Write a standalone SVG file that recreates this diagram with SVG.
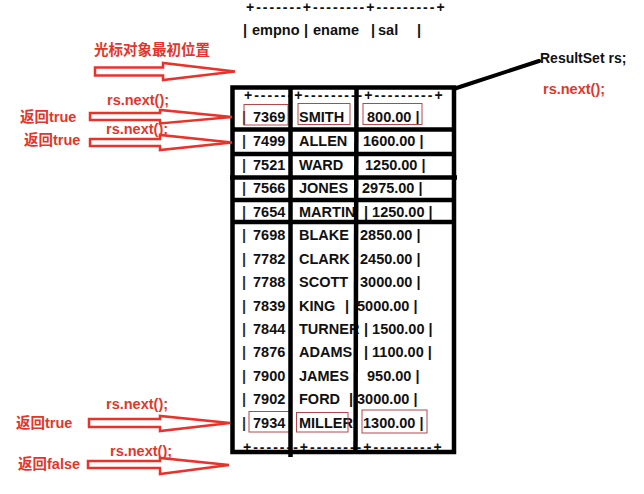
<svg xmlns="http://www.w3.org/2000/svg" width="644" height="494" viewBox="0 0 644 494">
<defs>
<style>
.red{fill:#e2362b;font-family:"Liberation Sans","Noto Sans CJK SC",sans-serif;font-weight:bold;font-size:14.5px}
.blk{fill:#111;font-family:"Liberation Sans","Noto Sans CJK SC",sans-serif;font-weight:bold;font-size:14.5px}
.dash{fill:#111;font-family:"Liberation Sans",sans-serif;font-weight:bold;font-size:14px;letter-spacing:2px}
.bar{fill:#1f2f4f}
.arrow{fill:#fff;stroke:#e8332a;stroke-width:2.5;stroke-linejoin:miter}
.hl{fill:none;stroke:#b5474a;stroke-width:1}
.tb{stroke:#000;stroke-width:4.5;fill:none}
</style>
</defs>
<rect width="644" height="494" fill="#fff"/>

<g id="header">
<text class="dash" x="246" y="12">+-------+--------+---------+</text>
<text class="blk" x="243" y="35">|</text>
<text class="blk" x="252" y="35">empno</text>
<text class="blk" x="304" y="35">|</text>
<text class="blk" x="313" y="35">ename</text>
<text class="blk" x="371" y="35">|</text>
<text class="blk" x="378" y="35">sal</text>
<text class="blk" x="417" y="35">|</text>
</g>

<g id="cursor-label">
<text class="red" x="94" y="55">光标对象最初位置</text>
</g>

<g id="resultset-label">
<text class="blk" x="540" y="63" style="font-size:14px">ResultSet rs;</text>
<text class="red" x="543" y="94">rs.next();</text>
</g>

<g id="labels-left">
<text class="red" x="107" y="105">rs.next();</text>
<text class="red" x="20" y="122">返回true</text>
<text class="red" x="106" y="134">rs.next();</text>
<text class="red" x="24" y="145">返回true</text>
<text class="red" x="106" y="409">rs.next();</text>
<text class="red" x="16" y="428">返回true</text>
<text class="red" x="110" y="456">rs.next();</text>
<text class="red" x="18" y="469">返回false</text>
</g>

<g id="table">
<text class="dash" x="244" y="100">+------+---------+---------+</text>
<text class="dash" x="243" y="452">+-------+--------+---------+</text>
<g id="rows">
<text class="blk bar" x="242" y="122">|</text><text class="blk" x="253" y="122">7369</text><text class="blk" x="299" y="122">SMITH</text><text class="blk" x="367" y="122">800.00 |</text>
<text class="blk bar" x="242" y="146">|</text><text class="blk" x="253" y="146">7499</text><text class="blk" x="299" y="146">ALLEN</text><text class="blk" x="363" y="146">1600.00 |</text>
<text class="blk bar" x="242" y="169.5">|</text><text class="blk" x="253" y="169.5">7521</text><text class="blk" x="299" y="169.5">WARD</text><text class="blk" x="365" y="169.5">1250.00 |</text>
<text class="blk bar" x="242" y="193">|</text><text class="blk" x="253" y="193">7566</text><text class="blk" x="299" y="193">JONES</text><text class="blk" x="362" y="193">2975.00 |</text>
<text class="blk bar" x="242" y="216.5">|</text><text class="blk" x="253" y="216.5">7654</text><text class="blk" x="299" y="216.5">MARTIN</text><text class="blk" x="364" y="216.5">| 1250.00 |</text>
<text class="blk bar" x="242" y="240">|</text><text class="blk" x="253" y="240">7698</text><text class="blk" x="299" y="240">BLAKE</text><text class="blk" x="360" y="240">2850.00 |</text>
<text class="blk bar" x="242" y="263.5">|</text><text class="blk" x="253" y="263.5">7782</text><text class="blk" x="299" y="263.5">CLARK</text><text class="blk" x="360" y="263.5">2450.00 |</text>
<text class="blk bar" x="242" y="287">|</text><text class="blk" x="253" y="287">7788</text><text class="blk" x="299" y="287">SCOTT</text><text class="blk" x="360" y="287">3000.00 |</text>
<text class="blk bar" x="242" y="310.5">|</text><text class="blk" x="253" y="310.5">7839</text><text class="blk" x="299" y="310.5">KING</text><text class="blk" x="345" y="310.5">|</text><text class="blk" x="357" y="310.5">5000.00 |</text>
<text class="blk bar" x="242" y="334">|</text><text class="blk" x="253" y="334">7844</text><text class="blk" x="299" y="334">TURNER</text><text class="blk" x="364" y="334">| 1500.00 |</text>
<text class="blk bar" x="242" y="357">|</text><text class="blk" x="253" y="357">7876</text><text class="blk" x="299" y="357">ADAMS</text><text class="blk" x="364" y="357">| 1100.00 |</text>
<text class="blk bar" x="242" y="380.5">|</text><text class="blk" x="253" y="380.5">7900</text><text class="blk" x="299" y="380.5">JAMES</text><text class="blk" x="367" y="380.5">950.00 |</text>
<text class="blk bar" x="242" y="404">|</text><text class="blk" x="253" y="404">7902</text><text class="blk" x="299" y="404">FORD</text><text class="blk" x="349" y="404">|</text><text class="blk" x="357" y="404">3000.00 |</text>
<text class="blk bar" x="242" y="427.5">|</text><text class="blk" x="253" y="427.5">7934</text><text class="blk" x="299" y="427.5">MILLER</text><text class="blk" x="363" y="427.5">1300.00 |</text>
</g>
<g id="highlights">
<rect class="hl" x="244" y="104.5" width="44" height="20.5"/>
<rect class="hl" x="298" y="103.5" width="52" height="21"/>
<rect class="hl" x="363" y="103.5" width="59" height="21"/>
<rect class="hl" x="249" y="411.5" width="41" height="20.5"/>
<rect class="hl" x="296.5" y="412.5" width="51.5" height="19.5"/>
<rect class="hl" x="362" y="410" width="65" height="23"/>
</g>
<g id="grid">
<rect class="tb" x="232.5" y="87.5" width="221.5" height="364.5"/>
<line class="tb" x1="290.5" y1="86" x2="290.5" y2="457"/>
<line class="tb" x1="356.5" y1="86" x2="355.5" y2="454"/>
<line class="tb" x1="232" y1="129.5" x2="455" y2="129.5"/>
<line class="tb" x1="232" y1="154" x2="455" y2="154"/>
<line class="tb" x1="230" y1="177.5" x2="457" y2="177.5"/>
<line class="tb" x1="232" y1="200" x2="455" y2="200"/>
<line class="tb" x1="232" y1="222" x2="455" y2="222"/>
</g>
</g>

<g id="connectors">
<line x1="455" y1="88.5" x2="539" y2="61" stroke="#000" stroke-width="4" stroke-linecap="round"/>
<polygon class="arrow" points="95,67.5 163,67.5 163,63 235,71.5 163,80 163,75.5 95,75.5"/>
<polygon class="arrow" points="90,113 160,113 160,110 232,117 160,123.5 160,120 90,120"/>
<polygon class="arrow" points="90,139 160,139 160,135 232,142.5 160,150 160,146 90,146"/>
<polygon class="arrow" points="89,419 160,419 160,416 230,423 160,431 160,427 89,427"/>
<polygon class="arrow" points="88,461 160,461 160,458 229,465 160,474 160,468 88,468"/>
</g>
</svg>
